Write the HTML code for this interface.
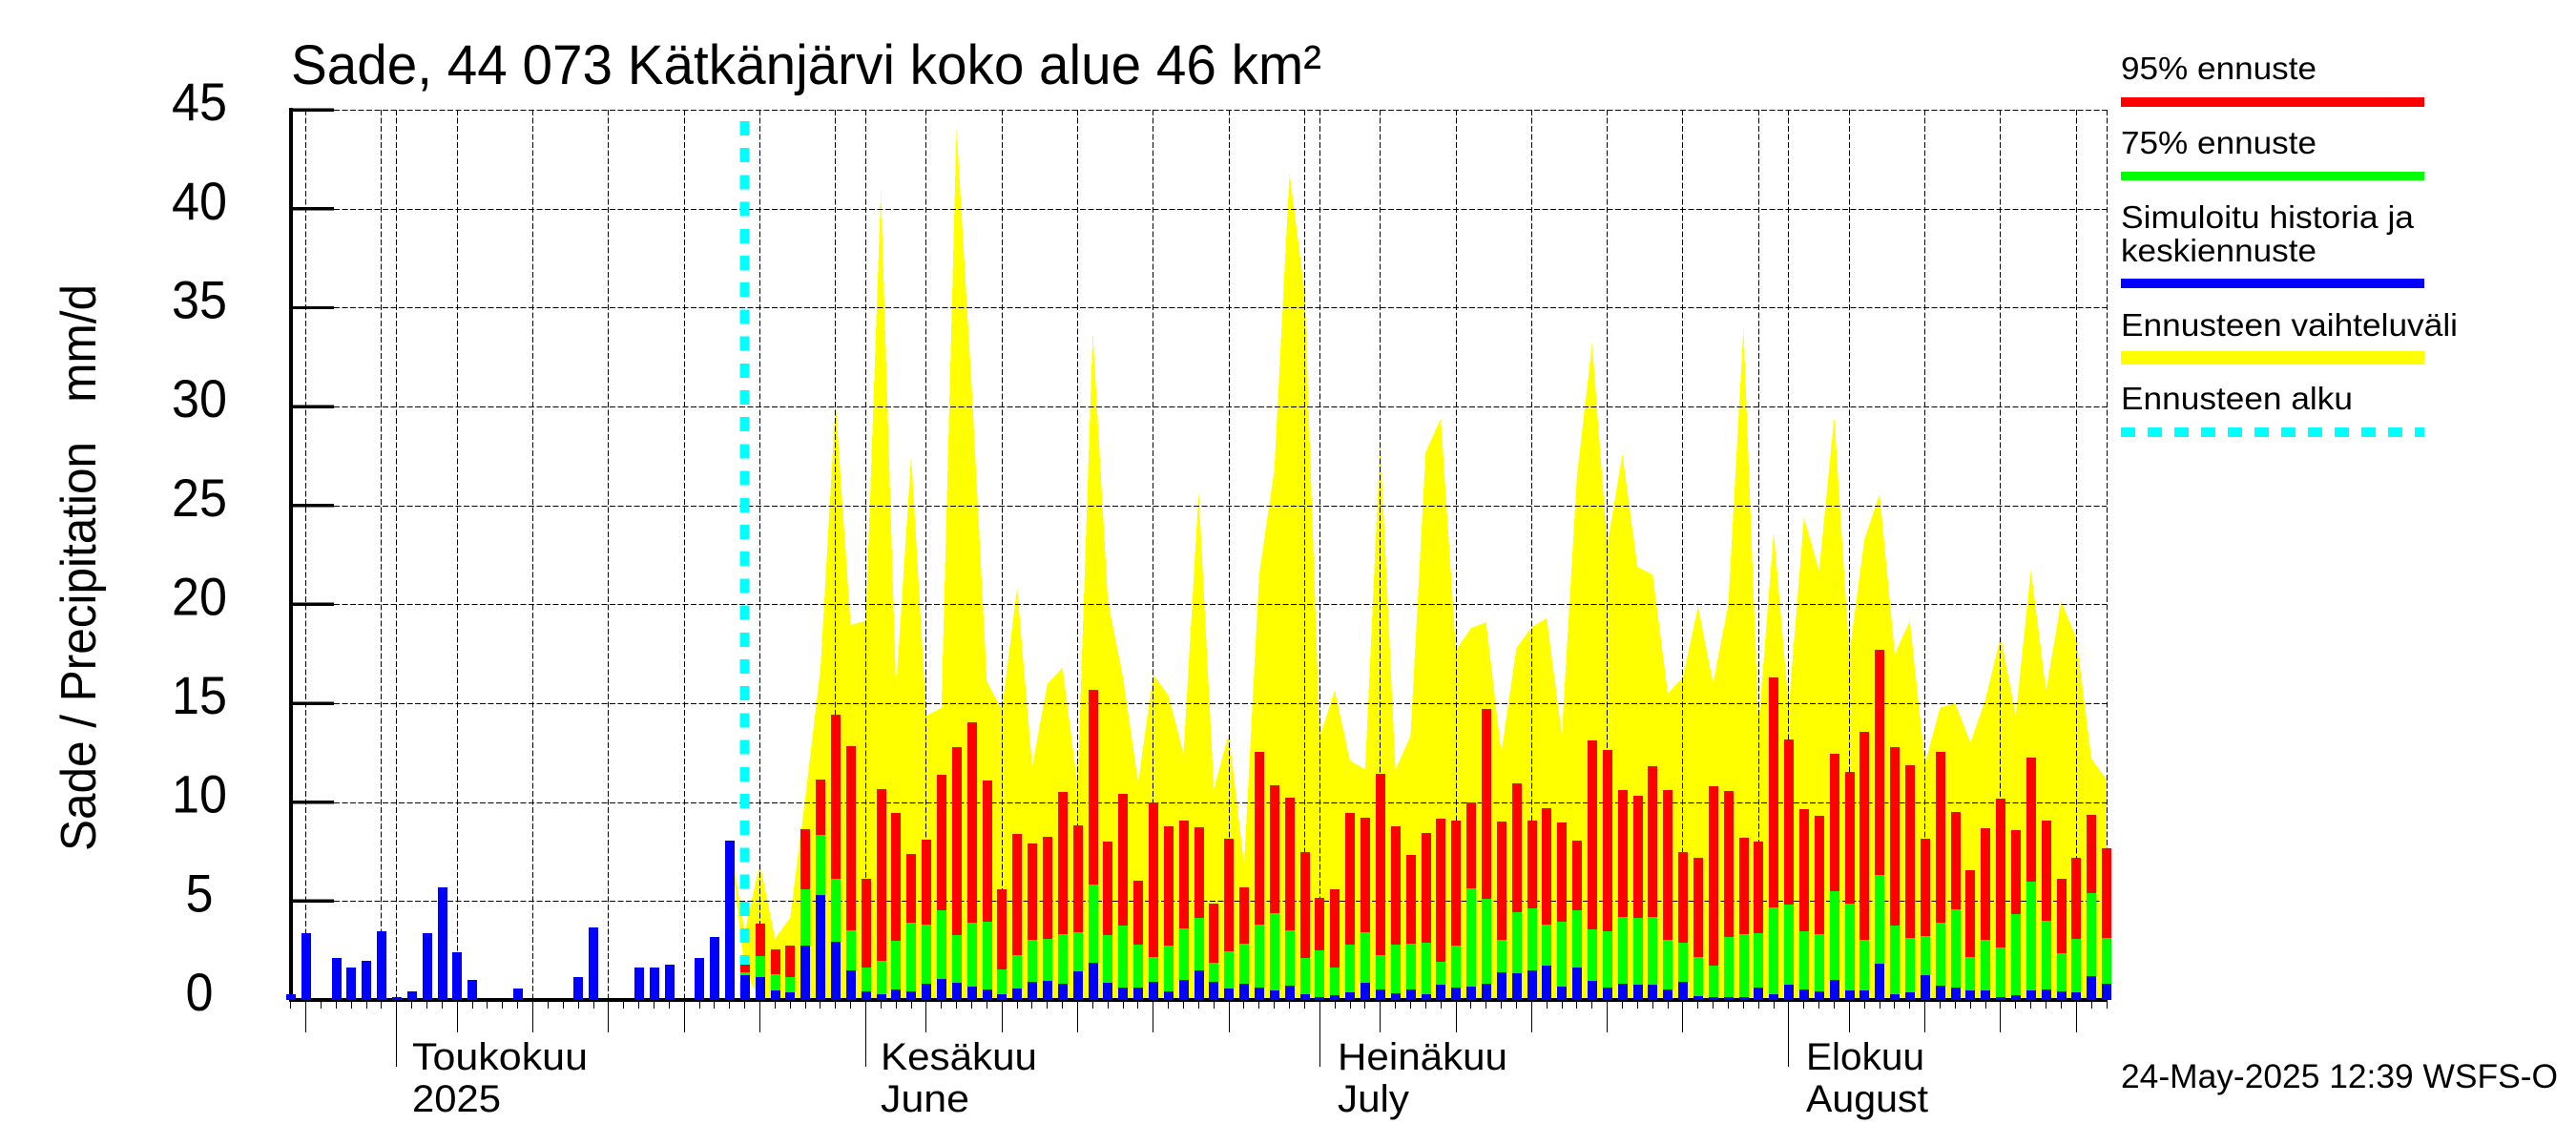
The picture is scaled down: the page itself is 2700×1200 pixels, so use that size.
<!DOCTYPE html>
<html lang="fi">
<head>
<meta charset="utf-8">
<title>Sade, 44 073 Kätkänjärvi</title>
<style>
  html, body { margin: 0; padding: 0; background: #fff; }
  svg { display: block; }
  text { font-family: "Liberation Sans", sans-serif; fill: #000; white-space: pre; }
</style>
</head>
<body>
<svg id="chart" xmlns="http://www.w3.org/2000/svg" width="2700" height="1200" viewBox="0 0 2700 1200">
  <rect x="0" y="0" width="2700" height="1200" fill="#fff"/>
  <g id="plot"></g>
  <text x="305" y="88" font-size="58" textLength="1080" lengthAdjust="spacingAndGlyphs">Sade, 44 073 Kätkänjärvi koko alue 46 km²</text>
  <text transform="translate(100 892) rotate(-90)" x="0" y="0" font-size="52" textLength="594" lengthAdjust="spacingAndGlyphs">Sade / Precipitation   mm/d</text>
  <text x="432" y="1121" font-size="40" textLength="184" lengthAdjust="spacingAndGlyphs">Toukokuu</text>
  <text x="432" y="1165" font-size="40" textLength="93" lengthAdjust="spacingAndGlyphs">2025</text>
  <text x="923" y="1121" font-size="40" textLength="164" lengthAdjust="spacingAndGlyphs">Kesäkuu</text>
  <text x="923" y="1165" font-size="40" textLength="93" lengthAdjust="spacingAndGlyphs">June</text>
  <text x="1402" y="1121" font-size="40" textLength="178" lengthAdjust="spacingAndGlyphs">Heinäkuu</text>
  <text x="1402" y="1165" font-size="40" textLength="75" lengthAdjust="spacingAndGlyphs">July</text>
  <text x="1893" y="1121" font-size="40" textLength="124" lengthAdjust="spacingAndGlyphs">Elokuu</text>
  <text x="1893" y="1165" font-size="40" textLength="128" lengthAdjust="spacingAndGlyphs">August</text>
  <text x="2223" y="1140" font-size="35" textLength="458" lengthAdjust="spacingAndGlyphs">24-May-2025 12:39 WSFS-O</text>
  <g>
    <text x="2223" y="83" font-size="33" textLength="205" lengthAdjust="spacingAndGlyphs">95% ennuste</text>
    <rect x="2223" y="102" width="318" height="10" fill="#ff0000" shape-rendering="crispEdges"/>
    <text x="2223" y="161" font-size="33" textLength="205" lengthAdjust="spacingAndGlyphs">75% ennuste</text>
    <rect x="2223" y="180" width="318" height="9" fill="#00ff00" shape-rendering="crispEdges"/>
    <text x="2223" y="239" font-size="33" textLength="307" lengthAdjust="spacingAndGlyphs">Simuloitu historia ja</text>
    <text x="2223" y="274" font-size="33" textLength="205" lengthAdjust="spacingAndGlyphs">keskiennuste</text>
    <rect x="2223" y="292" width="318" height="10" fill="#0000ff" shape-rendering="crispEdges"/>
    <text x="2223" y="352" font-size="33" textLength="353" lengthAdjust="spacingAndGlyphs">Ennusteen vaihteluväli</text>
    <rect x="2223" y="368" width="318" height="14" fill="#ffff00" shape-rendering="crispEdges"/>
    <text x="2223" y="429" font-size="33" textLength="243" lengthAdjust="spacingAndGlyphs">Ennusteen alku</text>
    <line x1="2223" y1="453" x2="2541" y2="453" stroke="#00ffff" stroke-width="10" stroke-dasharray="15 13" shape-rendering="crispEdges"/>
  </g>
</svg>
<script>
const startDate = [2025, 3, 24];
const dayCount = 120;
const forecastStartDay = 30;
const envelopeStartDay = 28;
const yTickLabels = ["0", "5", "10", "15", "20", "25", "30", "35", "40", "45"];
const yTickValues = [0, 5, 10, 15, 20, 25, 30, 35, 40, 45];

const meanSeries = [
  0.28,3.36,0,2.1,1.62,1.96,3.45,0.13,0.42,3.4,5.68,2.4,1.0,0,0,0.57,0,0,0,1.14,3.65,0,0,1.62,1.62,1.77,0,2.1,3.2,8.08,
  1.25,1.16,0.48,0.39,2.75,5.31,2.94,1.50,0.43,0.29,0.53,0.43,0.82,1.06,0.87,0.68,0.53,0.29,0.58,0.92,
  0.96,0.82,1.45,1.88,0.87,0.63,0.63,0.92,0.43,1.01,1.50,0.92,0.58,0.82,0.63,0.48,0.72,0.29,0.14,0.24,
  0.39,0.87,0.53,0.34,0.53,0.29,0.77,0.63,0.68,0.82,1.40,1.35,1.50,1.74,0.68,1.64,0.96,0.63,0.82,0.77,
  0.77,0.53,0.92,0.19,0.14,0.14,0.14,0.63,0.29,0.77,0.53,0.43,1.01,0.48,0.48,1.83,0.29,0.39,1.25,0.72,
  0.63,0.48,0.48,0.14,0.24,0.48,0.53,0.43,0.39,1.21,0.82
];
const p95Series = [
  1.78,3.86,2.56,2.75,8.63,11.14,14.42,12.83,6.13,10.66,9.45,7.38,8.10,11.38,12.78,14.04,11.09,5.59,8.39,7.91,
  8.25,10.51,8.83,15.68,8.01,10.42,6.03,9.98,8.78,9.07,8.73,4.87,8.15,5.69,12.54,10.85,10.23,7.48,5.16,5.59,
  9.45,9.21,11.43,8.78,7.33,8.44,9.16,9.07,9.98,14.71,9.02,10.95,9.07,9.69,8.97,8.05,13.12,12.64,10.61,10.32,
  11.82,10.61,7.48,7.19,10.80,10.56,8.20,8.01,16.30,13.17,9.65,9.31,12.44,11.53,13.55,17.7,12.78,11.86,8.15,12.54,
  9.50,6.56,8.68,10.18,8.59,12.25,9.07,6.13,7.19,9.36,7.67
];
const p75Series = [
  1.40,2.22,1.30,1.16,5.59,8.34,6.13,3.52,1.64,1.98,2.99,3.91,3.81,4.53,3.28,3.91,3.95,1.54,2.27,3.04,
  3.09,3.33,3.42,5.84,3.28,3.76,2.80,2.17,2.75,3.62,4.15,1.88,2.46,2.85,3.81,4.39,3.52,2.12,2.51,1.64,
  2.80,3.42,2.27,2.80,2.85,2.89,1.93,2.75,5.64,5.11,3.04,4.44,4.63,3.81,3.95,4.53,3.57,3.47,4.20,4.15,
  4.20,3.04,2.89,2.17,1.74,3.18,3.33,3.38,4.68,4.82,3.47,3.33,5.50,4.87,3.04,6.32,3.76,3.14,3.23,3.91,
  4.58,2.17,3.04,2.65,4.34,5.98,4.00,2.36,3.09,5.40,3.14
];
const envelopeUpper = [
  3.2,8.08,3.44,6.9,3.1,4.16,10.2,16.7,30.2,18.96,19.17,40.97,15.7,27.56,14.37,14.77,44.1,31,16.1,14.69,
  20.85,11.8,15.98,16.8,10.84,33.78,20.2,16.3,11.0,16.46,15.4,12.44,25.7,10.67,13.49,6.8,21.5,26.8,41.8,35.8,
  13.3,15.66,12.1,11.67,28.27,11.64,13.33,27.7,29.4,17.7,18.8,19.1,12.5,17.8,18.84,19.3,13.4,26.5,33.2,23,
  27.6,21.9,21.5,15.5,16.3,19.9,16,20,34,13.9,23.66,14.8,24.4,21.7,29.5,17.5,23.3,25.6,17.5,19.16,
  11.96,14.78,15.0,13.0,15.2,18.4,14.4,21.75,15.66,20.16,18.3,12.2,11.15
];
const envelopeLower = [3.2, 8.08, 1.5];

const ns = "http://www.w3.org/2000/svg";
const plot = document.getElementById("plot");
const x0 = 304.8, dayW = 15.86, y0 = 1048, unit = 20.73;
const xScale = d => x0 + d * dayW;
const yScale = v => y0 - v * unit;
const xEnd = xScale(dayCount);

function mk(tag, attrs) {
  const el = document.createElementNS(ns, tag);
  for (const k in attrs) el.setAttribute(k, attrs[k]);
  plot.appendChild(el);
  return el;
}

/* range envelope */
const upperPts = envelopeUpper.map((v, i) => xScale(envelopeStartDay + i).toFixed(1) + "," + yScale(v).toFixed(1));
const lowerPts = [];
for (let i = envelopeUpper.length - 1; i >= 0; i--) {
  const low = i < envelopeLower.length ? envelopeLower[i] : 0;
  lowerPts.push(xScale(envelopeStartDay + i).toFixed(1) + "," + yScale(low).toFixed(1));
}
const envelope = mk("polygon", { points: upperPts.concat(lowerPts).join(" "), fill: "#ffff00", "shape-rendering": "crispEdges" });



/* horizontal grid */
yTickValues.forEach(v => {
  const py = Math.round(yScale(v)) + 0.5;
  const g = mk("line", { x1: 350, x2: xEnd, y1: py, y2: py, stroke: "#000", "stroke-width": 1, "stroke-dasharray": "6 2.5", "shape-rendering": "crispEdges" });
  
  
});

/* calendar driven grid and ticks */
for (let d = 0; d <= dayCount; d++) {
  const date = new Date(startDate[0], startDate[1], startDate[2] + d);
  const dom = date.getDate();
  const isMonth = dom === 1;
  const isFive = dom % 5 === 0;
  const px = Math.floor(xScale(d)) + 0.5;
  if (isMonth || isFive) {
    const vg = mk("line", { x1: px, x2: px, y1: yScale(45), y2: y0, stroke: "#000", "stroke-width": 1, "stroke-dasharray": "6 2.5", "shape-rendering": "crispEdges" });
    
    
  }
  let len = 9;
  if (isFive && dom !== 30) len = 34;
  if (isMonth) len = 70;
  const t = mk("line", { x1: px, x2: px, y1: y0, y2: y0 + len, stroke: "#000", "stroke-width": 1, "shape-rendering": "crispEdges" });
  
  
}

/* right border of the grid */
const rightBorder = mk("line", { x1: Math.floor(xEnd) + 0.5, x2: Math.floor(xEnd) + 0.5, y1: yScale(45), y2: y0, stroke: "#000", "stroke-width": 1, "stroke-dasharray": "6 2.5", "shape-rendering": "crispEdges" });



/* forecast start marker */
const startLine = mk("line", { x1: xScale(forecastStartDay), x2: xScale(forecastStartDay), y1: 127, y2: y0, stroke: "#00ffff", "stroke-width": 10, "stroke-dasharray": "15 13.2", "shape-rendering": "crispEdges" });



/* axes */
const yAxis = mk("rect", { x: 303, y: yScale(45) - 2, width: 4, height: y0 - yScale(45) + 4, fill: "#000", "shape-rendering": "crispEdges" });


const xAxis = mk("rect", { x: 303, y: y0 - 2, width: xEnd - 303, height: 4, fill: "#000", "shape-rendering": "crispEdges" });



yTickValues.forEach((v, i) => {
  const t = mk("rect", { x: 303, y: yScale(v) - 1.7, width: 47, height: 3.4, fill: "#000", "shape-rendering": "crispEdges" });
  
  
  const label = yTickLabels[i];
  const txt = mk("text", { x: 209, y: yScale(v) + 11, "font-size": 56, "text-anchor": "middle", textLength: label.length * 29, lengthAdjust: "spacingAndGlyphs" });
  txt.textContent = label;
  
  
});

/* bars */
const barW = 10;
function bar(d, v, color) {
  const top = Math.round(yScale(v));
  return mk("rect", { x: Math.round(xScale(d) - barW / 2 + 0.2), y: top, width: barW, height: y0 - top, fill: color, "shape-rendering": "crispEdges" });
}
p95Series.forEach((v, i) => {
  const r = bar(forecastStartDay + i, v, "#ff0000");
  
  
});
p75Series.forEach((v, i) => {
  const r = bar(forecastStartDay + i, v, "#00ff00");
  
  
});
meanSeries.forEach((v, i) => {
  if (v <= 0) return;
  const r = bar(i, v, "#0000ff");
  
  
});
</script>
</body>
</html>
